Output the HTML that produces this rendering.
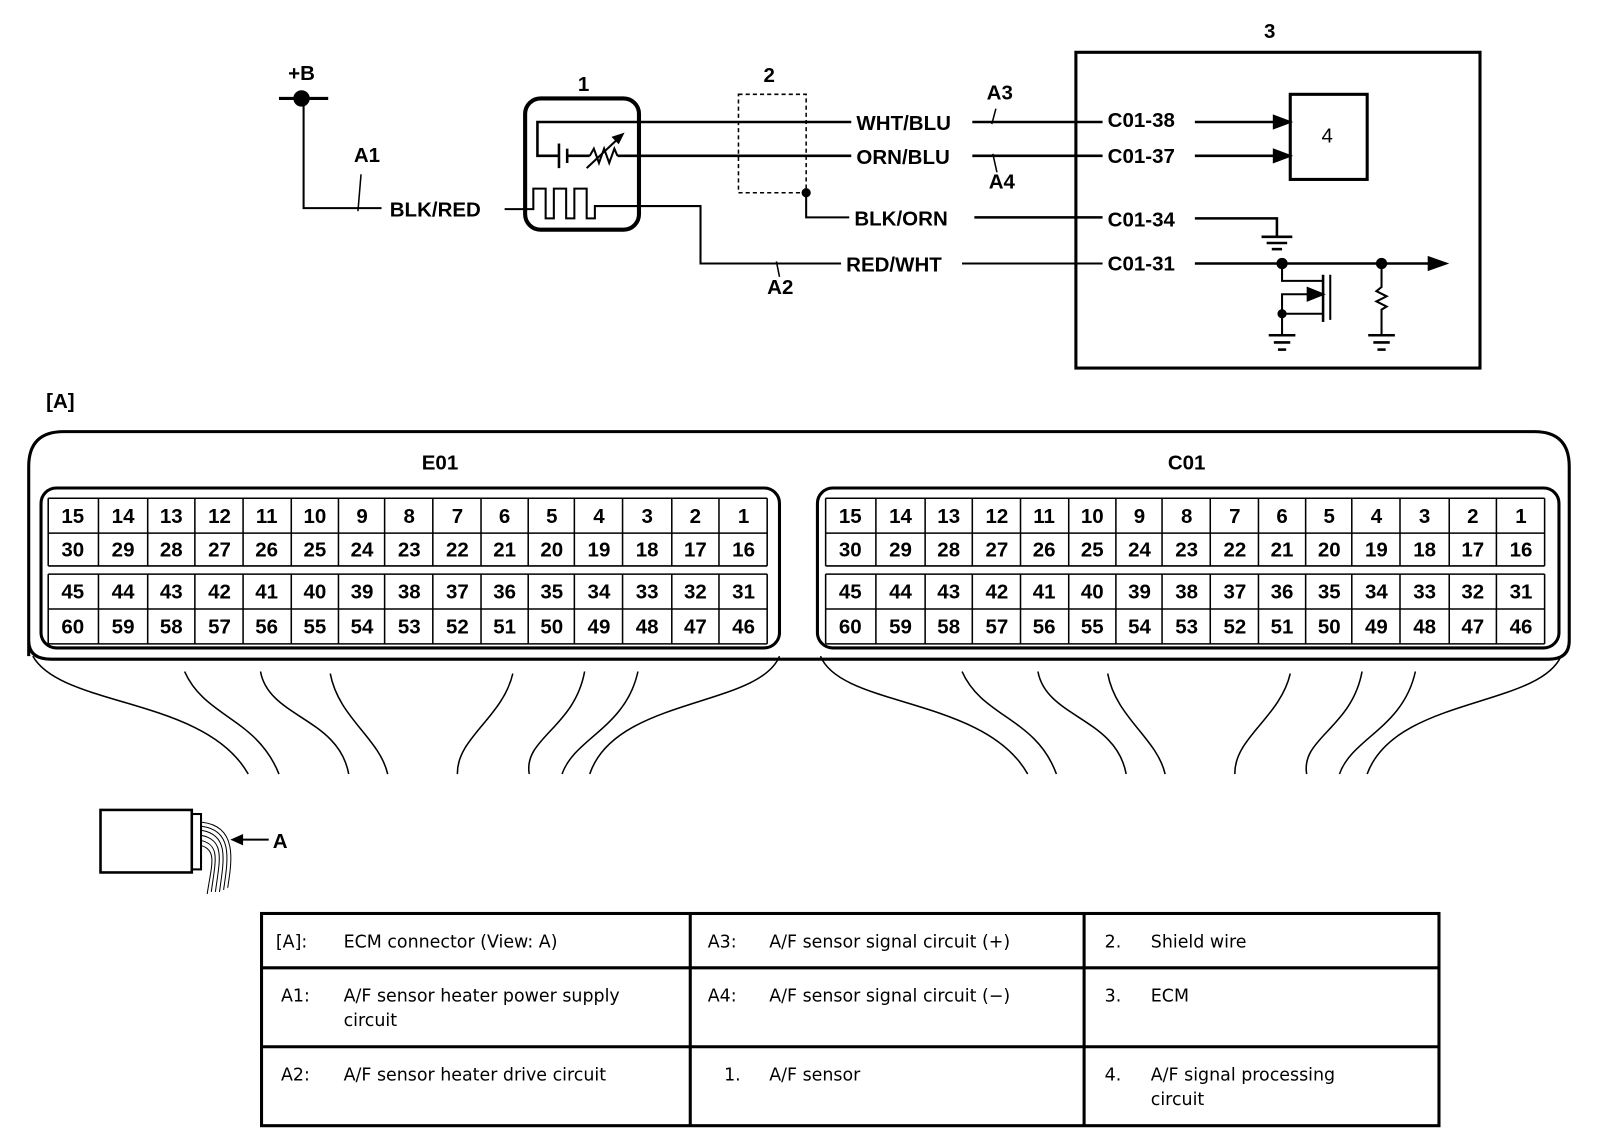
<!DOCTYPE html>
<html><head><meta charset="utf-8"><style>
html,body{margin:0;padding:0;background:#fff;}
svg{display:block;}
.l{font-family:"Liberation Sans",Arial,sans-serif;font-size:20px;fill:#000;}
.b{font-weight:bold;}
.t{font-family:"DejaVu Sans","Liberation Sans",sans-serif;font-size:17px;fill:#000;}
.n{font-family:"Liberation Sans",Arial,sans-serif;font-size:20px;fill:#000;text-anchor:middle;}
.c text{font-weight:bold;}
</style></head><body>
<svg width="1600" height="1138" viewBox="0 0 1560 1110" preserveAspectRatio="none" xmlns="http://www.w3.org/2000/svg">
<g stroke="#000" fill="none" stroke-width="2">
<line x1="272" y1="96" x2="320" y2="96" stroke-width="3"/>
<circle cx="294" cy="96" r="7" fill="#000"/>
<polyline points="296,96 296,203 372,203"/>
<line x1="352" y1="170" x2="349" y2="206" stroke-width="1.5"/>
<rect x="512" y="96" width="111" height="128" rx="15" stroke-width="4"/>
<polyline points="830,119 524,119 524,152 545,152" stroke-width="2.5"/>
<line x1="545" y1="140" x2="545" y2="164" stroke-width="2.5"/>
<line x1="553" y1="145" x2="553" y2="159" stroke-width="2.5"/>
<line x1="553" y1="152" x2="575" y2="152" stroke-width="2.5"/>
<polyline points="575,152 579,145 584,159 589,145 594,159 599,145 602,152" stroke-width="2"/>
<line x1="572" y1="164" x2="604" y2="134" stroke-width="2"/>
<polygon points="607,131 598,134 603,139" fill="#000"/>
<line x1="602" y1="152" x2="830" y2="152" stroke-width="2.5"/>
<polyline points="492,204 520,204 520,184 532,184 532,213 540,213 540,184 552,184 552,213 560,213 560,184 572,184 572,213 580,213 580,201 683,201 683,257 820,257" stroke-width="2"/>
<line x1="757" y1="255" x2="760" y2="270" stroke-width="1.5"/>
<rect x="720" y="92" width="66" height="96" stroke-width="1.5" stroke-dasharray="4,3"/>
<circle cx="786" cy="188" r="3.5" fill="#000"/>
<polyline points="786,188 786,212 828,212" stroke-width="2"/>
<line x1="948" y1="119" x2="1075" y2="119" stroke-width="2.5"/>
<line x1="948" y1="152" x2="1075" y2="152" stroke-width="2.5"/>
<line x1="950" y1="212" x2="1075" y2="212" stroke-width="2.5"/>
<line x1="938" y1="257" x2="1075" y2="257" stroke-width="2"/>
<line x1="971" y1="106" x2="967" y2="121" stroke-width="1.5"/>
<line x1="968" y1="150" x2="972" y2="168" stroke-width="1.5"/>
<rect x="1049" y="51" width="394" height="308" stroke-width="3"/>
<rect x="1258" y="92" width="75" height="83" stroke-width="3"/>
<line x1="1165" y1="119" x2="1242" y2="119" stroke-width="2.5"/>
<polygon points="1242,113 1258,119 1242,125" fill="#000"/>
<line x1="1165" y1="152" x2="1242" y2="152" stroke-width="2.5"/>
<polygon points="1242,146 1258,152 1242,158" fill="#000"/>
<polyline points="1165,213 1245,213 1245,230" stroke-width="2.5"/>
<line x1="1230" y1="231" x2="1260" y2="231" stroke-width="2.5"/>
<line x1="1235" y1="237" x2="1255" y2="237" stroke-width="2.5"/>
<line x1="1240" y1="243" x2="1250" y2="243" stroke-width="2.5"/>
<line x1="1165" y1="257" x2="1395" y2="257" stroke-width="2.5"/>
<polygon points="1393,251 1410,257 1393,263" fill="#000"/>
<circle cx="1250" cy="257" r="4.5" fill="#000"/>
<circle cx="1347" cy="257" r="4.5" fill="#000"/>
<polyline points="1250,257 1250,274 1290,274" stroke-width="2"/>
<line x1="1290" y1="268" x2="1290" y2="314" stroke-width="2.5"/>
<line x1="1297" y1="268" x2="1297" y2="312" stroke-width="2"/>
<polyline points="1250,306 1250,287 1280,287" stroke-width="2"/>
<polygon points="1275,281 1290,287 1275,293" fill="#000"/>
<line x1="1250" y1="306" x2="1290" y2="306" stroke-width="2"/>
<circle cx="1250" cy="306" r="3.5" fill="#000"/>
<line x1="1250" y1="306" x2="1250" y2="326" stroke-width="2"/>
<line x1="1237" y1="327" x2="1263" y2="327" stroke-width="2.5"/>
<line x1="1242" y1="334" x2="1258" y2="334" stroke-width="2.5"/>
<line x1="1246" y1="341" x2="1254" y2="341" stroke-width="2.5"/>
<polyline points="1347,257 1347,280 1342,284 1352,289 1342,294 1352,299 1347,302 1347,326" stroke-width="2"/>
<line x1="1334" y1="327" x2="1360" y2="327" stroke-width="2.5"/>
<line x1="1339" y1="334" x2="1355" y2="334" stroke-width="2.5"/>
<line x1="1343" y1="341" x2="1351" y2="341" stroke-width="2.5"/>
<path d="M28,640 L28,455 Q28,421 62,421 L1496,421 Q1530,421 1530,455 L1530,625 Q1530,643 1510,643 L50,643 Q28,643 28,625" stroke-width="3"/>
<rect x="40" y="476" width="720" height="156" rx="15" stroke-width="3"/>
<rect x="797" y="476" width="723" height="156" rx="15" stroke-width="3"/>
<path d="M32,640 C60,690 200,680 242,755" stroke-width="1.5"/>
<path d="M180,655 C200,700 250,700 272,755" stroke-width="1.5"/>
<path d="M254,655 C262,700 330,700 340,755" stroke-width="1.5"/>
<path d="M322,657 C330,700 370,720 378,755" stroke-width="1.5"/>
<path d="M500,657 C490,700 445,720 446,755" stroke-width="1.5"/>
<path d="M570,655 C560,710 510,720 516,755" stroke-width="1.5"/>
<path d="M622,655 C610,710 560,720 548,755" stroke-width="1.5"/>
<path d="M760,640 C740,690 600,680 575,755" stroke-width="1.5"/>
<path d="M800,640 C820,690 960,680 1002,755" stroke-width="1.5"/>
<path d="M938,655 C958,700 1010,700 1030,755" stroke-width="1.5"/>
<path d="M1012,655 C1020,700 1088,700 1098,755" stroke-width="1.5"/>
<path d="M1080,657 C1088,700 1128,720 1136,755" stroke-width="1.5"/>
<path d="M1258,657 C1248,700 1203,720 1204,755" stroke-width="1.5"/>
<path d="M1328,655 C1318,710 1268,720 1274,755" stroke-width="1.5"/>
<path d="M1380,655 C1368,710 1318,720 1306,755" stroke-width="1.5"/>
<path d="M1522,640 C1500,690 1360,680 1333,755" stroke-width="1.5"/>
<rect x="98" y="790" width="89" height="61" stroke-width="2.5"/>
<rect x="187" y="794" width="9" height="54" stroke-width="2"/>
<path d="M197,820 C215,825 210,840 206,870" stroke-width="1"/>
<path d="M197,815 C220,820 214,840 210,870" stroke-width="1"/>
<path d="M197,810 C224,815 218,840 214,870" stroke-width="1"/>
<path d="M197,806 C228,810 222,840 218,868" stroke-width="1"/>
<path d="M197,802 C232,806 226,840 222,866" stroke-width="1"/>
<path d="M197,825 C212,830 206,845 202,872" stroke-width="1"/>
<line x1="234" y1="819" x2="262" y2="819" stroke-width="2"/>
<polygon points="227,819 236,815 236,823" fill="#000"/>
<rect x="255" y="891" width="1148" height="207" stroke-width="3"/>
<line x1="255" y1="944" x2="1403" y2="944" stroke-width="3"/>
<line x1="255" y1="1021" x2="1403" y2="1021" stroke-width="3"/>
<line x1="673" y1="891" x2="673" y2="1098" stroke-width="3"/>
<line x1="1057" y1="891" x2="1057" y2="1098" stroke-width="3"/>
</g>
<text class="n b" x="294" y="78">+B</text>
<text class="l b" x="345" y="158">A1</text>
<text class="l b" x="380" y="211">BLK/RED</text>
<text class="n b" x="569" y="89">1</text>
<text class="n b" x="750" y="80">2</text>
<text class="l b" x="835" y="127">WHT/BLU</text>
<text class="l b" x="835" y="160">ORN/BLU</text>
<text class="l b" x="833" y="220">BLK/ORN</text>
<text class="l b" x="825" y="265">RED/WHT</text>
<text class="l b" x="748" y="287">A2</text>
<text class="l b" x="962" y="97">A3</text>
<text class="l b" x="964" y="184">A4</text>
<text class="n b" x="1238" y="37">3</text>
<text class="l b" x="1080" y="124">C01-38</text>
<text class="l b" x="1080" y="159">C01-37</text>
<text class="l b" x="1080" y="221">C01-34</text>
<text class="l b" x="1080" y="264">C01-31</text>
<text class="n" x="1294" y="139">4</text>
<text class="l b" x="45" y="398">[A]</text>
<text class="n b" x="429" y="458">E01</text>
<text class="n b" x="1157" y="458">C01</text>
<text class="l b" x="266" y="827">A</text>
<text class="t" x="269" y="924">[A]:</text><text class="t" x="335" y="924">ECM connector (View: A)</text>
<text class="t" x="274" y="977">A1:</text><text class="t" x="335" y="977">A/F sensor heater power supply</text><text class="t" x="335" y="1001">circuit</text>
<text class="t" x="274" y="1054">A2:</text><text class="t" x="335" y="1054">A/F sensor heater drive circuit</text>
<text class="t" x="690" y="924">A3:</text><text class="t" x="750" y="924">A/F sensor signal circuit (+)</text>
<text class="t" x="690" y="977">A4:</text><text class="t" x="750" y="977">A/F sensor signal circuit (−)</text>
<text class="t" x="706" y="1054">1.</text><text class="t" x="750" y="1054">A/F sensor</text>
<text class="t" x="1077" y="924">2.</text><text class="t" x="1122" y="924">Shield wire</text>
<text class="t" x="1077" y="977">3.</text><text class="t" x="1122" y="977">ECM</text>
<text class="t" x="1077" y="1054">4.</text><text class="t" x="1122" y="1054">A/F signal processing</text><text class="t" x="1122" y="1078">circuit</text>
<g stroke="#000" fill="none" stroke-width="1.5">
<path d="M47,486 H748 M47,520 H748 M47,552 H748 M47,560 H748 M47,594 H748 M47,628 H748"/>
<path d="M47,486 V552 M96,486 V552 M144,486 V552 M190,486 V552 M237,486 V552 M284,486 V552 M330,486 V552 M375,486 V552 M422,486 V552 M469,486 V552 M515,486 V552 M560,486 V552 M607,486 V552 M655,486 V552 M701,486 V552 M748,486 V552"/>
<path d="M47,560 V628 M96,560 V628 M144,560 V628 M190,560 V628 M237,560 V628 M284,560 V628 M330,560 V628 M375,560 V628 M422,560 V628 M469,560 V628 M515,560 V628 M560,560 V628 M607,560 V628 M655,560 V628 M701,560 V628 M748,560 V628"/>
<path d="M805,486 H1506 M805,520 H1506 M805,552 H1506 M805,560 H1506 M805,594 H1506 M805,628 H1506"/>
<path d="M805,486 V552 M854,486 V552 M902,486 V552 M948,486 V552 M995,486 V552 M1042,486 V552 M1088,486 V552 M1133,486 V552 M1180,486 V552 M1227,486 V552 M1273,486 V552 M1318,486 V552 M1365,486 V552 M1413,486 V552 M1459,486 V552 M1506,486 V552"/>
<path d="M805,560 V628 M854,560 V628 M902,560 V628 M948,560 V628 M995,560 V628 M1042,560 V628 M1088,560 V628 M1133,560 V628 M1180,560 V628 M1227,560 V628 M1273,560 V628 M1318,560 V628 M1365,560 V628 M1413,560 V628 M1459,560 V628 M1506,560 V628"/>
</g>
<g class="c">
<text class="n" x="71" y="510">15</text><text class="n" x="120" y="510">14</text><text class="n" x="167" y="510">13</text><text class="n" x="214" y="510">12</text><text class="n" x="260" y="510">11</text><text class="n" x="307" y="510">10</text><text class="n" x="353" y="510">9</text><text class="n" x="399" y="510">8</text><text class="n" x="446" y="510">7</text><text class="n" x="492" y="510">6</text><text class="n" x="538" y="510">5</text><text class="n" x="584" y="510">4</text><text class="n" x="631" y="510">3</text><text class="n" x="678" y="510">2</text><text class="n" x="725" y="510">1</text>
<text class="n" x="71" y="543">30</text><text class="n" x="120" y="543">29</text><text class="n" x="167" y="543">28</text><text class="n" x="214" y="543">27</text><text class="n" x="260" y="543">26</text><text class="n" x="307" y="543">25</text><text class="n" x="353" y="543">24</text><text class="n" x="399" y="543">23</text><text class="n" x="446" y="543">22</text><text class="n" x="492" y="543">21</text><text class="n" x="538" y="543">20</text><text class="n" x="584" y="543">19</text><text class="n" x="631" y="543">18</text><text class="n" x="678" y="543">17</text><text class="n" x="725" y="543">16</text>
<text class="n" x="71" y="584">45</text><text class="n" x="120" y="584">44</text><text class="n" x="167" y="584">43</text><text class="n" x="214" y="584">42</text><text class="n" x="260" y="584">41</text><text class="n" x="307" y="584">40</text><text class="n" x="353" y="584">39</text><text class="n" x="399" y="584">38</text><text class="n" x="446" y="584">37</text><text class="n" x="492" y="584">36</text><text class="n" x="538" y="584">35</text><text class="n" x="584" y="584">34</text><text class="n" x="631" y="584">33</text><text class="n" x="678" y="584">32</text><text class="n" x="725" y="584">31</text>
<text class="n" x="71" y="618">60</text><text class="n" x="120" y="618">59</text><text class="n" x="167" y="618">58</text><text class="n" x="214" y="618">57</text><text class="n" x="260" y="618">56</text><text class="n" x="307" y="618">55</text><text class="n" x="353" y="618">54</text><text class="n" x="399" y="618">53</text><text class="n" x="446" y="618">52</text><text class="n" x="492" y="618">51</text><text class="n" x="538" y="618">50</text><text class="n" x="584" y="618">49</text><text class="n" x="631" y="618">48</text><text class="n" x="678" y="618">47</text><text class="n" x="725" y="618">46</text>
<text class="n" x="829" y="510">15</text><text class="n" x="878" y="510">14</text><text class="n" x="925" y="510">13</text><text class="n" x="972" y="510">12</text><text class="n" x="1018" y="510">11</text><text class="n" x="1065" y="510">10</text><text class="n" x="1111" y="510">9</text><text class="n" x="1157" y="510">8</text><text class="n" x="1204" y="510">7</text><text class="n" x="1250" y="510">6</text><text class="n" x="1296" y="510">5</text><text class="n" x="1342" y="510">4</text><text class="n" x="1389" y="510">3</text><text class="n" x="1436" y="510">2</text><text class="n" x="1483" y="510">1</text>
<text class="n" x="829" y="543">30</text><text class="n" x="878" y="543">29</text><text class="n" x="925" y="543">28</text><text class="n" x="972" y="543">27</text><text class="n" x="1018" y="543">26</text><text class="n" x="1065" y="543">25</text><text class="n" x="1111" y="543">24</text><text class="n" x="1157" y="543">23</text><text class="n" x="1204" y="543">22</text><text class="n" x="1250" y="543">21</text><text class="n" x="1296" y="543">20</text><text class="n" x="1342" y="543">19</text><text class="n" x="1389" y="543">18</text><text class="n" x="1436" y="543">17</text><text class="n" x="1483" y="543">16</text>
<text class="n" x="829" y="584">45</text><text class="n" x="878" y="584">44</text><text class="n" x="925" y="584">43</text><text class="n" x="972" y="584">42</text><text class="n" x="1018" y="584">41</text><text class="n" x="1065" y="584">40</text><text class="n" x="1111" y="584">39</text><text class="n" x="1157" y="584">38</text><text class="n" x="1204" y="584">37</text><text class="n" x="1250" y="584">36</text><text class="n" x="1296" y="584">35</text><text class="n" x="1342" y="584">34</text><text class="n" x="1389" y="584">33</text><text class="n" x="1436" y="584">32</text><text class="n" x="1483" y="584">31</text>
<text class="n" x="829" y="618">60</text><text class="n" x="878" y="618">59</text><text class="n" x="925" y="618">58</text><text class="n" x="972" y="618">57</text><text class="n" x="1018" y="618">56</text><text class="n" x="1065" y="618">55</text><text class="n" x="1111" y="618">54</text><text class="n" x="1157" y="618">53</text><text class="n" x="1204" y="618">52</text><text class="n" x="1250" y="618">51</text><text class="n" x="1296" y="618">50</text><text class="n" x="1342" y="618">49</text><text class="n" x="1389" y="618">48</text><text class="n" x="1436" y="618">47</text><text class="n" x="1483" y="618">46</text>
</g>
</svg>
</body></html>
